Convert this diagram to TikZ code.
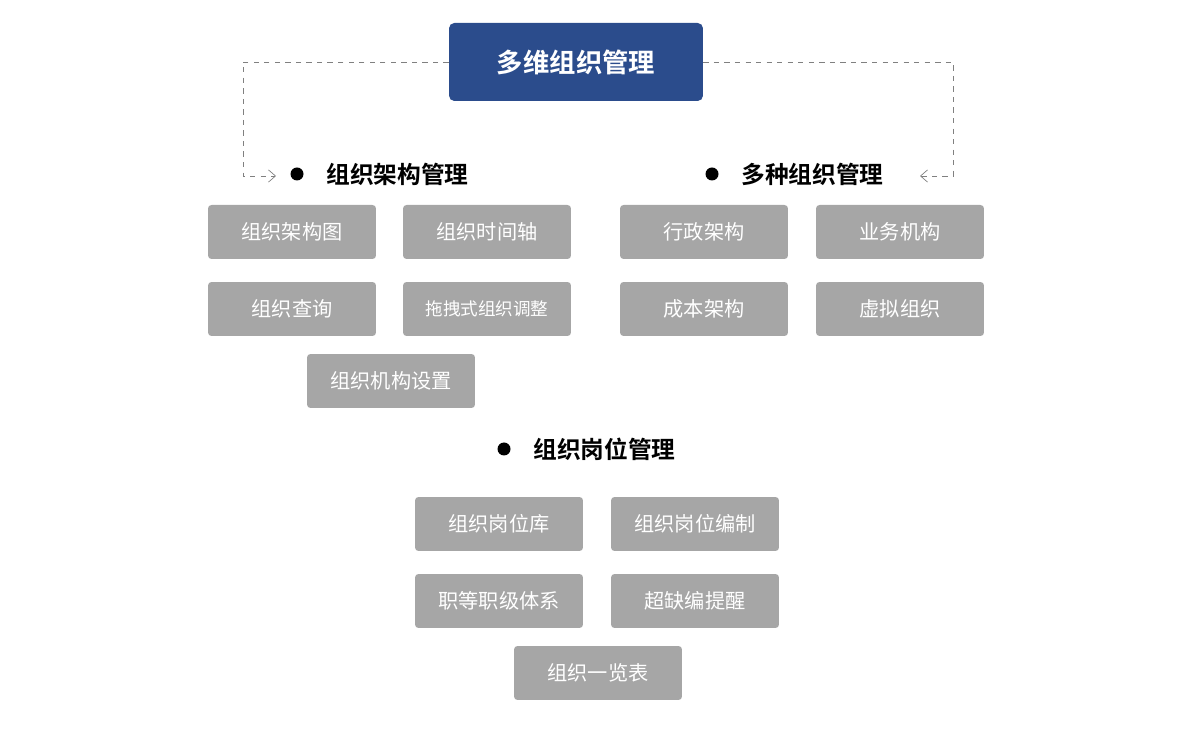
\documentclass[tikz,border=0pt]{standalone}
\usepackage{fontspec}
\setmainfont{Noto Sans CJK SC}
\newfontfamily\cjkb[FakeBold=0]{Noto Sans CJK SC Bold}
\usetikzlibrary{arrows.meta}
\definecolor{topblue}{HTML}{2B4C8C}
\definecolor{boxgray}{HTML}{A6A6A6}
\tikzset{
 x=0.02cm,y=-0.02cm,
 gbox/.style={fill=boxgray,rounded corners=2pt,minimum width=3.36cm,minimum height=1.08cm,text=white,font=\fontsize{11.5}{13}\selectfont,inner sep=0pt},
 head/.style={font=\cjkb\fontsize{13.5}{15}\selectfont,anchor=west,inner sep=0pt},
 dot/.style={circle,fill=black,minimum size=0.26cm,inner sep=0pt},
 conn/.style={draw=gray,dashed,-{Straight Barb[length=4pt,width=7pt]}}
}
\begin{document}
\begin{tikzpicture}
\useasboundingbox (0,0) rectangle (1200,732);
\node[fill=topblue,rounded corners=3pt,minimum width=5.08cm,minimum height=1.56cm,text=white,font=\cjkb\fontsize{15}{17}\selectfont] (top) at (576,62) {多维组织管理};
\node[dot] (d1) at (297,174) {};
\node[head] (h1) at (326,174) {组织架构管理};
\node[dot] (d2) at (712,174) {};
\node[head] (h2) at (741,174) {多种组织管理};
\node[dot] (d3) at (504,449) {};
\node[head] (h3) at (533,449) {组织岗位管理};
\coordinate (la) at (276,176);
\coordinate (ra) at (920,176);
\draw[conn] (top.west) -| (243,176) -- (la);
\draw[conn] (top.east) -| (953,176) -- (ra);
\node[gbox] (a1) at (292,232) {组织架构图};
\node[gbox] (a2) at (487,232) {组织时间轴};
\node[gbox] (b1) at (704,232) {行政架构};
\node[gbox] (b2) at (900,232) {业务机构};
\node[gbox] (a3) at (292,309) {组织查询};
\node[gbox,font=\fontsize{10}{12}\selectfont] (a4) at (487,309) {拖拽式组织调整};
\node[gbox] (b3) at (704,309) {成本架构};
\node[gbox] (b4) at (900,309) {虚拟组织};
\node[gbox] (a5) at (391,381) {组织机构设置};
\node[gbox] (c1) at (499,524) {组织岗位库};
\node[gbox] (c2) at (695,524) {组织岗位编制};
\node[gbox] (c3) at (499,601) {职等职级体系};
\node[gbox] (c4) at (695,601) {超缺编提醒};
\node[gbox] (c5) at (598,673) {组织一览表};
\end{tikzpicture}
\end{document}
